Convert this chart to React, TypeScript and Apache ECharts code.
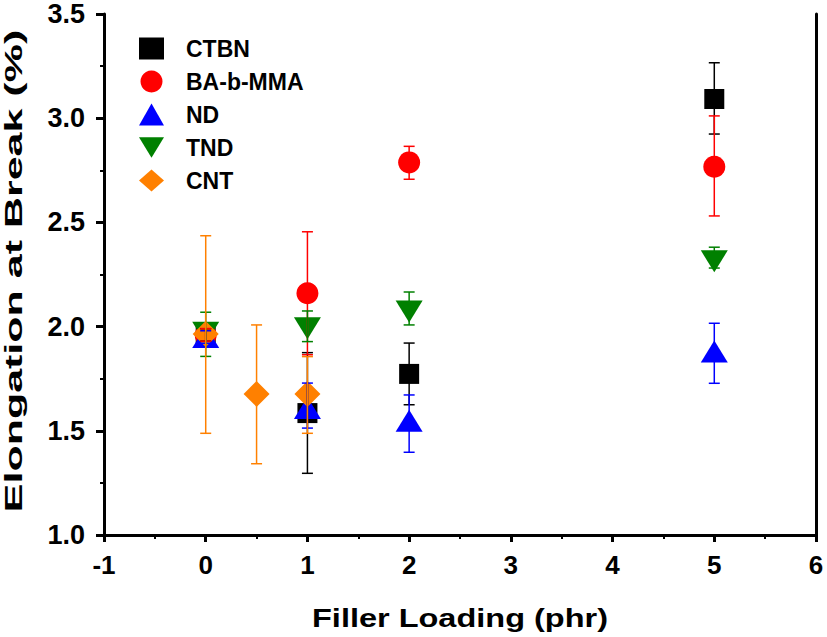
import React, { useEffect, useRef } from "react";
import * as echarts from "echarts";

const seriesNames = ["CTBN", "BA-b-MMA", "ND", "TND", "CNT"];
const seriesColors = ["#000000", "#ff0000", "#0000ff", "#008000", "#ff8000"];

const ctbnX = [0, 1, 2, 5];
const ctbnY = [1.96, 1.585, 1.773, 3.092];
const ctbnLo = [1.93, 1.296, 1.625, 2.924];
const ctbnHi = [1.99, 1.875, 1.921, 3.266];

const bambmaX = [0, 1, 2, 5];
const bambmaY = [1.96, 2.16, 2.788, 2.767];
const bambmaLo = [1.93, 1.865, 2.707, 2.531];
const bambmaHi = [1.99, 2.455, 2.865, 3.011];

const ndX = [0, 1, 2, 5];
const ndY = [1.95, 1.609, 1.548, 1.88];
const ndLo = [1.92, 1.513, 1.397, 1.728];
const ndHi = [1.98, 1.729, 1.672, 2.016];

const tndX = [0, 1, 2, 5];
const tndY = [1.97, 1.992, 2.072, 2.313];
const tndLo = [1.857, 1.928, 2.008, 2.281];
const tndHi = [2.069, 2.075, 2.166, 2.381];

const cntX = [0, 0.5, 1];
const cntY = [1.964, 1.677, 1.677];
const cntLo = [1.488, 1.342, 1.488];
const cntHi = [2.436, 2.008, 1.856];

const xTicksMin = -1;
const xTicksMax = 6;
const yTicksMin = 1.0;
const yTicksMax = 3.5;

const xTitle = "Filler Loading (phr)";
const yTitle = "Elongation at Break (%)";

const FONT = '"Liberation Sans", Arial, Helvetica, sans-serif';

const allX = [ctbnX, bambmaX, ndX, tndX, cntX];
const allY = [ctbnY, bambmaY, ndY, tndY, cntY];
const allLo = [ctbnLo, bambmaLo, ndLo, tndLo, cntLo];
const allHi = [ctbnHi, bambmaHi, ndHi, tndHi, cntHi];

const symbols = [
  "rect",
  "circle",
  "triangle",
  "path://M0,0 L10,0 L5,8.2 Z",
  "diamond",
];
const symbolSizes: any[] = [[20, 20], [22, 22], [27, 22], [27, 22], [26, 26]];

export default function App() {
  const ref = useRef<HTMLDivElement>(null);
  useEffect(() => {
    if (!ref.current) return;
    const chart = echarts.init(ref.current, null, { renderer: "svg" });

    const scatterSeries = seriesNames.map((name, i) => ({
      name,
      type: "scatter",
      symbol: symbols[i],
      symbolSize: symbolSizes[i],
      itemStyle: { color: seriesColors[i], opacity: 1 },
      z: 2 + i * 0.1,
      data: allX[i].map((x, j) => [x, allY[i][j]]),
    }));

    const errSeries = seriesNames.map((name, i) => ({
      name: name + " err",
      type: "custom",
      z: 5,
      silent: true,
      encode: { x: 0, y: [1, 2] },
      data: allX[i].map((x, j) => [x, allLo[i][j], allHi[i][j]]),
      renderItem: (params: any, api: any) => {
        const x = api.value(0);
        const lo = api.value(1);
        const hi = api.value(2);
        const pLo = api.coord([x, lo]);
        const pHi = api.coord([x, hi]);
        const w = 5.5;
        const st = { stroke: seriesColors[i], lineWidth: 1.5 };
        return {
          type: "group",
          children: [
            { type: "line", shape: { x1: pLo[0], y1: pLo[1], x2: pHi[0], y2: pHi[1] }, style: st },
            { type: "line", shape: { x1: pLo[0] - w, y1: pLo[1], x2: pLo[0] + w, y2: pLo[1] }, style: st },
            { type: "line", shape: { x1: pHi[0] - w, y1: pHi[1], x2: pHi[0] + w, y2: pHi[1] }, style: st },
          ],
        };
      },
    }));

    chart.setOption({
      animation: false,
      backgroundColor: "#ffffff",
      grid: { left: 104, right: 11, top: 14, bottom: 102, containLabel: false },
      legend: {
        data: seriesNames,
        orient: "vertical",
        left: 139,
        top: 37,
        padding: 0,
        itemWidth: 25,
        itemHeight: 22,
        itemGap: 10,
        symbolKeepAspect: true,
        textStyle: {
          fontFamily: FONT,
          fontWeight: "bold",
          fontSize: 23,
          color: "#000",
          padding: [0, 0, 0, 17],
        },
      },
      xAxis: {
        type: "value",
        min: xTicksMin,
        max: xTicksMax,
        interval: 1,
        splitLine: { show: false },
        axisLine: { show: true, onZero: false, lineStyle: { color: "#000", width: 3 } },
        axisTick: { show: true, inside: false, length: 7, lineStyle: { color: "#000", width: 3 } },
        minorTick: { show: true, splitNumber: 2, length: 4, lineStyle: { color: "#000", width: 2 } },
        axisLabel: {
          margin: 17,
          fontFamily: FONT,
          fontWeight: "bold",
          fontSize: 26,
          color: "#000",
          formatter: (v: number) => String(v),
        },
      },
      yAxis: [
        {
          type: "value",
          min: yTicksMin,
          max: yTicksMax,
          interval: 0.5,
          splitLine: { show: false },
          axisLine: { show: true, onZero: false, lineStyle: { color: "#000", width: 3 } },
          axisTick: { show: true, inside: false, length: 8, lineStyle: { color: "#000", width: 3 } },
          minorTick: { show: true, splitNumber: 2, length: 4, lineStyle: { color: "#000", width: 2 } },
          axisLabel: {
            margin: 19,
            fontFamily: FONT,
            fontWeight: "bold",
            fontSize: 27,
            color: "#000",
            formatter: (v: number) => v.toFixed(1),
          },
        },
        {
          type: "value",
          position: "right",
          min: yTicksMin,
          max: yTicksMax,
          interval: 0.5,
          splitLine: { show: false },
          axisLine: { show: true, onZero: false, lineStyle: { color: "#000", width: 3 } },
          axisTick: { show: false },
          axisLabel: { show: false },
        },
      ],
      graphic: [
        {
          type: "text",
          x: 14,
          y: 271,
          rotation: Math.PI / 2,
          scaleX: 1.87,
          style: {
            text: yTitle,
            fill: "#000",
            fontFamily: FONT,
            fontWeight: "bold",
            fontSize: 23,
            textAlign: "center",
            textVerticalAlign: "middle",
            align: "center",
            verticalAlign: "middle",
          },
        },
        {
          type: "text",
          x: 460,
          y: 618,
          scaleX: 1.25,
          style: {
            text: xTitle,
            fill: "#000",
            fontFamily: FONT,
            fontWeight: "bold",
            fontSize: 26,
            textAlign: "center",
            textVerticalAlign: "middle",
            align: "center",
            verticalAlign: "middle",
          },
        },
      ],
      series: [...scatterSeries, ...errSeries],
    });

    return () => chart.dispose();
  }, []);

  return <div ref={ref} style={{ width: 827, height: 637, position: "absolute", left: 0, top: 0 }} />;
}
